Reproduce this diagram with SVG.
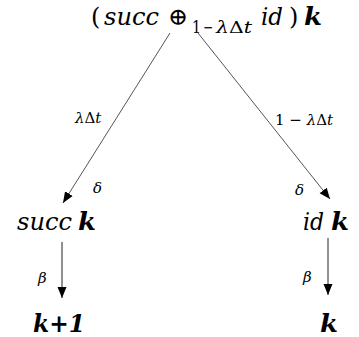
<svg xmlns="http://www.w3.org/2000/svg" width="359" height="337" viewBox="0 0 359 337">
<style>
text{fill:#000;font-family:"DejaVu Serif",serif}
.it{font-style:italic}
.bi{font-style:italic;font-weight:bold}
.up{font-style:normal}
.lbl{font-size:15px;font-style:italic}
.m{font-size:24px}
.sub{font-size:16px}
.diag{stroke:#555;stroke-width:1;fill:none}
.vert{stroke:#222;stroke-width:1;fill:none}
</style>
<defs>
<marker id="ah" markerUnits="userSpaceOnUse" markerWidth="12" markerHeight="10" refX="11" refY="5" orient="auto">
<path d="M0,0.5 L11,5 L0,9.5 Z" fill="#000"/>
</marker>
</defs>
<g id="top">
<text class="m up" x="91" y="25">(</text>
<text class="m it" x="104" y="25" textLength="55" lengthAdjust="spacingAndGlyphs">succ</text>
<text class="m up" x="168" y="25">⊕</text>
<text class="sub up" x="192" y="33" textLength="9" lengthAdjust="spacingAndGlyphs">1</text>
<text class="sub up" x="203" y="33" textLength="10" lengthAdjust="spacingAndGlyphs">−</text>
<text class="sub" x="216" y="33" textLength="36" lengthAdjust="spacingAndGlyphs"><tspan class="it">λ</tspan><tspan class="up">Δ</tspan><tspan class="it">t</tspan></text>
<text class="m it" x="261" y="25" textLength="22" lengthAdjust="spacingAndGlyphs">id</text>
<text class="m up" x="289" y="25">)</text>
<text class="m bi" x="304" y="25" textLength="18" lengthAdjust="spacingAndGlyphs">k</text>
</g>
<g id="succk">
<text class="m it" x="17" y="230" textLength="55" lengthAdjust="spacingAndGlyphs">succ</text>
<text class="m bi" x="78" y="230" textLength="18" lengthAdjust="spacingAndGlyphs">k</text>
</g>
<g id="idk">
<text class="m it" x="303" y="230" textLength="21" lengthAdjust="spacingAndGlyphs">id</text>
<text class="m bi" x="331" y="230" textLength="18" lengthAdjust="spacingAndGlyphs">k</text>
</g>
<g id="kplus1">
<text class="m bi" x="33" y="332" textLength="52" lengthAdjust="spacingAndGlyphs">k+1</text>
</g>
<g id="k">
<text class="m bi" x="320" y="332" textLength="18" lengthAdjust="spacingAndGlyphs">k</text>
</g>
<g id="connectors">
<line class="diag" x1="170" y1="33" x2="63" y2="203" marker-end="url(#ah)"/>
<line class="diag" x1="198" y1="33" x2="330" y2="199" marker-end="url(#ah)"/>
<line class="vert" x1="62" y1="242" x2="62" y2="298" marker-end="url(#ah)"/>
<line class="vert" x1="328" y1="238" x2="328" y2="295" marker-end="url(#ah)"/>
<text class="lbl" x="75" y="123">λ<tspan class="up">Δ</tspan>t</text>
<text class="lbl" x="275" y="125"><tspan class="up">1 − </tspan>λ<tspan class="up">Δ</tspan>t</text>
<text class="lbl" x="93" y="193">δ</text>
<text class="lbl" x="295" y="195">δ</text>
<text class="lbl" x="38" y="283">β</text>
<text class="lbl" x="303" y="282">β</text>
</g>
</svg>
